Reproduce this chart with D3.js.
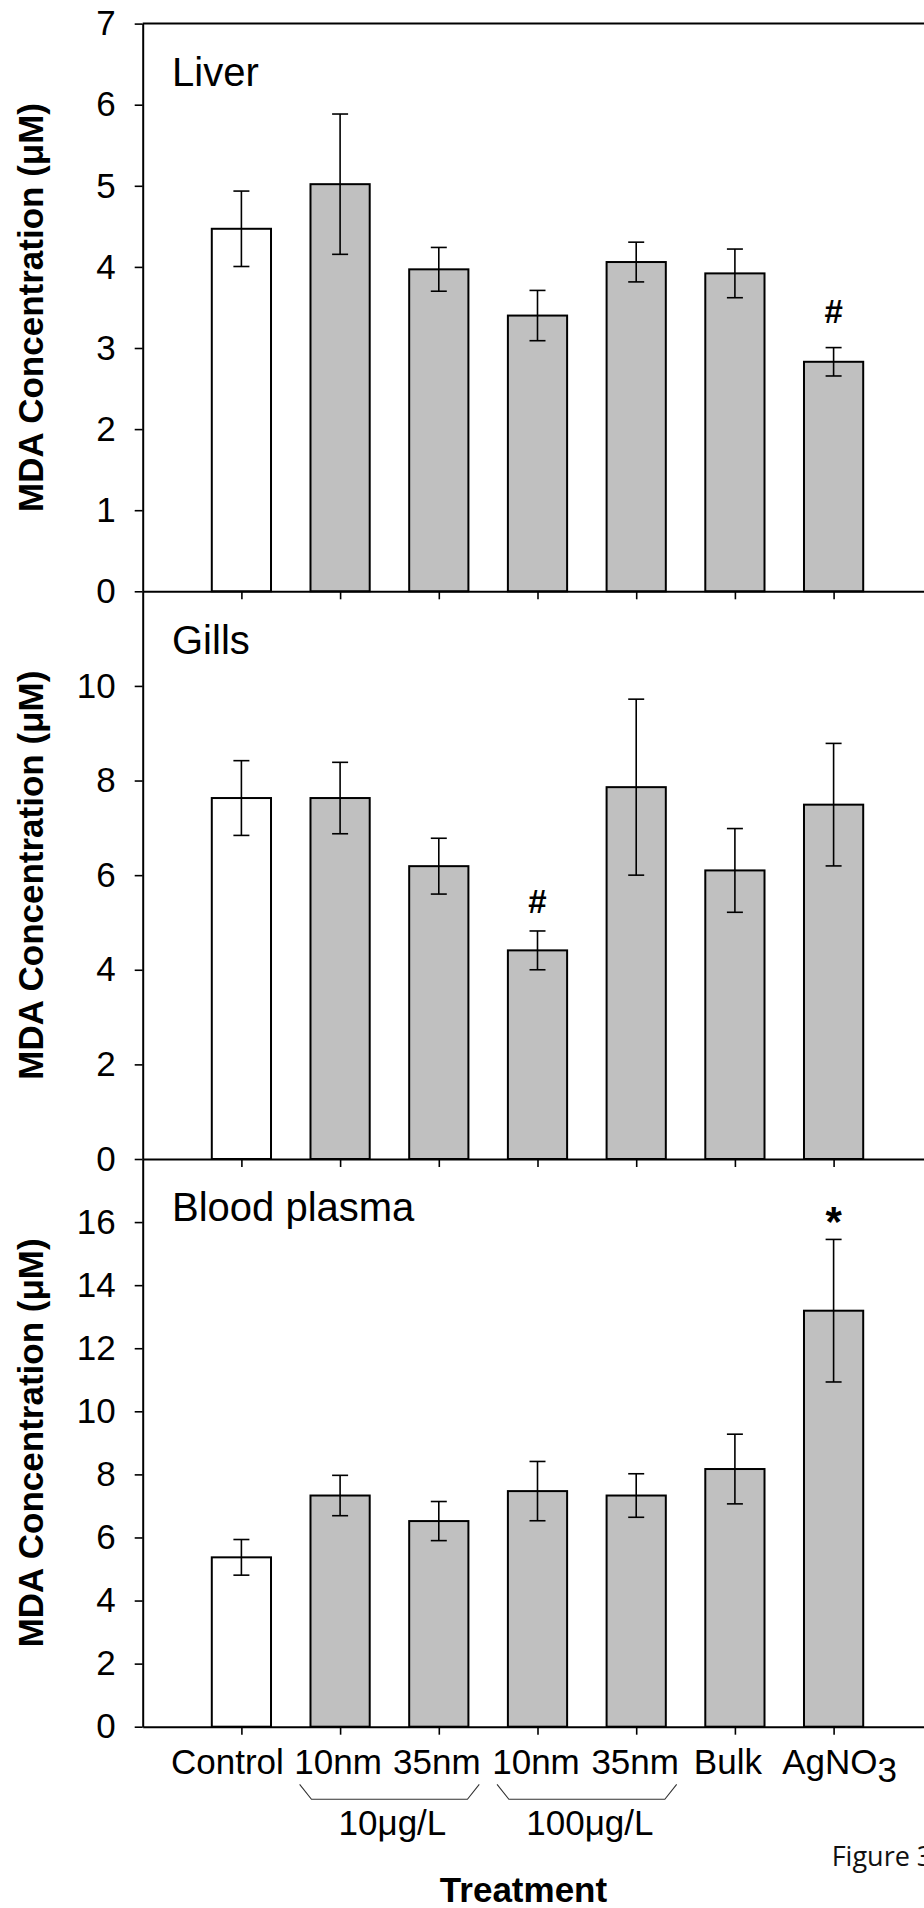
<!DOCTYPE html>
<html><head><meta charset="utf-8">
<script src="https://cdn.jsdelivr.net/npm/d3@7"></script>
<style>body{margin:0;background:#fff}svg{display:block}</style>
</head><body><svg id="chart" width="924" height="1908"></svg>
<script>
// ---- data ----
const categories = ["Control","10nm","35nm","10nm","35nm","Bulk","AgNO3"];
const liverMean  = [4.47, 5.02, 3.97, 3.40, 4.06, 3.92, 2.83];
const liverErr   = [0.465, 0.865, 0.27, 0.31, 0.245, 0.30, 0.175];
const gillsMean  = [7.63, 7.63, 6.19, 4.41, 7.86, 6.10, 7.49];
const gillsErr   = [0.79, 0.755, 0.59, 0.41, 1.86, 0.885, 1.295];
const plasmaMean = [5.37, 7.33, 6.52, 7.47, 7.33, 8.17, 13.19];
const plasmaErr  = [0.565, 0.64, 0.62, 0.94, 0.69, 1.105, 2.26];
const panelNames = ["Liver", "Gills", "Blood plasma"];
const yMax = [7, 12, 18];
const yTicks = [[0,1,2,3,4,5,6,7],[0,2,4,6,8,10],[0,2,4,6,8,10,12,14,16]];
const groupLabels = ["10μg/L", "100μg/L"];
const groupFrom = [1, 3];   // category indices (0-based)
const groupTo = [2, 4];
const sigSymbols = ["#", "#", "*"];
const sigCategory = [6, 3, 6];
const sigValue = [3.31, 5.2, 15.55];
const yTitle = "MDA Concentration (μM)";
const xTitle = "Treatment";
const footnote = "Figure 3";

// ---- layout ----
const W = 924, H = 1908;
const plotTop = 23.6, panelH = 567.7;
const plotLeft = 142.7, plotRight = 932.3;
const font = "'Liberation Sans', Arial, Helvetica, sans-serif";
const tickFont = 35;
const labelNudge = [-14, -2, -2, -1.5, -1, -7, 6];
const sigSize = [33, 33, 42];

const svg = d3.select("#chart");
svg.append("rect").attr("width", W).attr("height", H).attr("fill", "#fff");

const x = d3.scaleLinear().domain([0, categories.length + 1]).range([plotLeft, plotRight]);
const pos = i => x(i + 1);
const barW = x(0.6) - x(0);
const capHalf = 8;

const series = [[liverMean, liverErr], [gillsMean, gillsErr], [plasmaMean, plasmaErr]];

series.forEach(([m, e], p) => {
  const yBottom = plotTop + (p + 1) * panelH;
  const yTop = plotTop + p * panelH;
  const y = d3.scaleLinear().domain([0, yMax[p]]).range([yBottom, yTop]);
  const g = svg.append("g");

  // bars
  g.selectAll("rect.bar").data(m).join("rect").attr("class", "bar")
    .attr("x", (d, i) => pos(i) - barW / 2)
    .attr("width", barW)
    .attr("y", d => y(d))
    .attr("height", d => yBottom - y(d))
    .attr("fill", (d, i) => i === 0 ? "#ffffff" : "#c0c0c0")
    .attr("stroke", "#000").attr("stroke-width", 2);

  // error bars
  const eb = g.selectAll("g.err").data(m).join("g").attr("class", "err")
    .attr("stroke", "#000").attr("stroke-width", 1.6);
  eb.append("line")
    .attr("x1", (d, i) => pos(i)).attr("x2", (d, i) => pos(i))
    .attr("y1", (d, i) => y(d - e[i])).attr("y2", (d, i) => y(d + e[i]));
  eb.append("line")
    .attr("x1", (d, i) => pos(i) - capHalf).attr("x2", (d, i) => pos(i) + capHalf)
    .attr("y1", (d, i) => y(d + e[i])).attr("y2", (d, i) => y(d + e[i]));
  eb.append("line")
    .attr("x1", (d, i) => pos(i) - capHalf).attr("x2", (d, i) => pos(i) + capHalf)
    .attr("y1", (d, i) => y(d - e[i])).attr("y2", (d, i) => y(d - e[i]));

  // y axis
  const ya = g.append("g").attr("transform", `translate(${x(0)},0)`)
    .call(d3.axisLeft(y).tickValues(yTicks[p]).tickSize(8).tickSizeOuter(0)
      .tickPadding(19).tickFormat(d3.format("d")));
  ya.select(".domain").attr("stroke", "#000").attr("stroke-width", 2);
  ya.selectAll(".tick line").attr("stroke", "#000").attr("stroke-width", 1.6);
  ya.selectAll(".tick text").attr("font-family", font).attr("font-size", tickFont).attr("fill", "#000");

  // x axis
  const xa = g.append("g").attr("transform", `translate(0,${yBottom})`)
    .call(d3.axisBottom(x).tickValues(d3.range(1, categories.length + 1))
      .tickSize(8).tickSizeOuter(0).tickFormat(""));
  xa.select(".domain").attr("stroke", "#000").attr("stroke-width", 2);
  xa.selectAll(".tick line").attr("stroke", "#000").attr("stroke-width", 1.6);

  // panel name
  g.append("text").attr("x", 172).attr("y", yTop + 62.4)
    .attr("font-family", font).attr("font-size", 40).attr("fill", "#000")
    .text(panelNames[p]);

  // y title
  g.append("text")
    .attr("transform", `translate(42.5,${(yTop + yBottom) / 2}) rotate(-90)`)
    .attr("text-anchor", "middle").attr("font-family", font)
    .attr("font-weight", "bold").attr("font-size", 35).attr("fill", "#000")
    .text(yTitle);

  // significance marker
  g.append("text")
    .attr("x", pos(sigCategory[p])).attr("y", y(sigValue[p]))
    .attr("text-anchor", "middle").attr("font-family", font)
    .attr("font-weight", "bold").attr("font-size", sigSize[p]).attr("fill", "#000")
    .text(sigSymbols[p]);

  if (p === 0) {
    g.append("line").attr("x1", x(0)).attr("x2", x(categories.length + 1))
      .attr("y1", yTop).attr("y2", yTop).attr("stroke", "#000").attr("stroke-width", 2);
  }
});

// x tick labels (bottom panel)
const axisY = plotTop + 3 * panelH;
const labY = axisY + 47.6;
categories.forEach((c, i) => {
  const t = svg.append("text").attr("x", pos(i) + labelNudge[i]).attr("y", labY)
    .attr("text-anchor", "middle").attr("font-family", font).attr("font-size", tickFont).attr("fill", "#000");
  if (c === "AgNO3") {
    t.append("tspan").text("AgNO");
    t.append("tspan").attr("dy", 7.4).text("3");
  } else {
    t.text(c);
  }
});

// group brackets
const bracketLine = d3.line();
groupLabels.forEach((lab, k) => {
  const a = groupFrom[k] + 1, b = groupTo[k] + 1;
  const pts = [[x(a - 0.41), axisY + 57.6], [x(a - 0.29), axisY + 72.6],
               [x(b + 0.29), axisY + 72.6], [x(b + 0.41), axisY + 57.6]];
  svg.append("path").attr("d", bracketLine(pts)).attr("fill", "none")
    .attr("stroke", "#333").attr("stroke-width", 1.1);
  svg.append("text").attr("x", x((a + b) / 2) + 3).attr("y", axisY + 108.3)
    .attr("text-anchor", "middle").attr("font-family", font).attr("font-size", tickFont).attr("fill", "#000")
    .text(lab);
});

// x title
svg.append("text").attr("x", x(4) - 14).attr("y", 1901.7)
  .attr("text-anchor", "middle").attr("font-family", font)
  .attr("font-weight", "bold").attr("font-size", 35).attr("fill", "#000")
  .text(xTitle);

// footnote
svg.append("text").attr("x", 831.7).attr("y", 1865.7)
  .attr("font-family", "'Open Sans', 'Noto Sans', sans-serif").attr("font-size", 27).attr("fill", "#111")
  .text(footnote);
</script>
</body></html>
